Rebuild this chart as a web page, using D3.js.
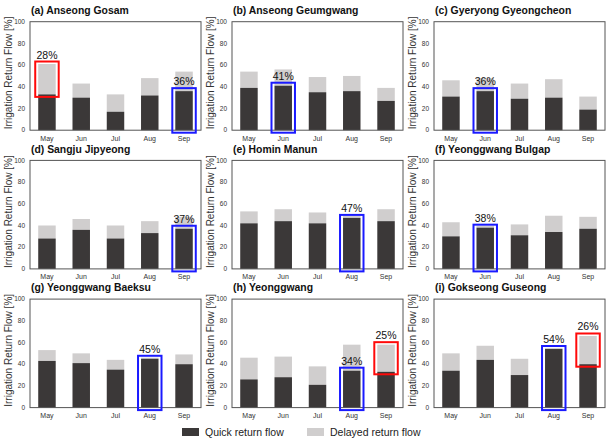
<!DOCTYPE html>
<html>
<head>
<meta charset="utf-8">
<script src="https://cdn.jsdelivr.net/npm/d3@7"></script>
<style>
  body { margin: 0; background: #fff; }
  svg { display: block; font-family: "Liberation Sans", Arial, sans-serif; }
</style>
</head>
<body>
<div id="chart"></div>
<script>
// months on the x axis
const months = ['May', 'Jun', 'Jul', 'Aug', 'Sep'];
const yTicks = [0, 20, 40, 60, 80, 100];

const siteNames = [
  '(a) Anseong Gosam', '(b) Anseong Geumgwang', '(c) Gyeryong Gyeongcheon',
  '(d) Sangju Jipyeong', '(e) Homin Manun', '(f) Yeonggwang Bulgap',
  '(g) Yeonggwang Baeksu', '(h) Yeonggwang', '(i) Gokseong Guseong'
];

// quick return flow [%] per site, May..Sep
const quickFlow = [
  [33, 30, 17, 32, 36],
  [39, 41, 35, 36, 27],
  [31, 36, 29, 30, 19],
  [28, 36, 28, 33, 37],
  [42, 44, 42, 47, 44],
  [30, 38, 31, 34, 37],
  [43, 41, 35, 45, 40],
  [26, 28, 21, 34, 33],
  [34, 44, 30, 54, 40]
];

// total (quick + delayed) return flow [%]
const totalFlow = [
  [61, 43, 33, 48, 54],
  [54, 56, 49, 50, 39],
  [46, 48, 43, 47, 31],
  [40, 46, 40, 44, 48],
  [53, 55, 52, 49, 55],
  [43, 40, 41, 49, 48],
  [53, 50, 44, 46, 49],
  [46, 47, 38, 58, 58],
  [50, 57, 45, 55, 66]
];

// highlighted month: blue = max quick flow, red = max delayed flow
const blueMonth = ['Sep', 'Jun', 'Jun', 'Sep', 'Aug', 'Jun', 'Aug', 'Aug', 'Aug'];
const redMonth  = ['May', null, null, null, null, null, null, 'Sep', 'Sep'];

const legendItems = ['Quick return flow', 'Delayed return flow'];

const W = 606, H = 440;
const colors = { quick: '#3b3838', delayed: '#d0cece', blue: '#1a1aff', red: '#ff0a0a', frame: '#555', text: '#333' };

const svg = d3.select('#chart').append('svg').attr('width', W).attr('height', H);

const plotW = 171, plotH = 108.5;
const colX = [30, 232, 434];
const rowY = [21.7, 160.4, 299.1];

const x = d3.scaleBand().domain(months).range([0, plotW]).paddingInner(0.49).paddingOuter(0.24);
const y = d3.scaleLinear().domain([0, 100]).range([plotH, 0]);
const padX = 3, padY = 2.5;

siteNames.forEach((name, i) => {
  const g = svg.append('g')
    .attr('transform', `translate(${colX[i % 3]},${rowY[Math.floor(i / 3)]})`);

  const rows = months.map((m, k) => ({ month: m, quick: quickFlow[i][k], total: totalFlow[i][k] }));

  // title
  g.append('text')
    .attr('x', 1).attr('y', -7.7)
    .attr('font-size', '10.4px').attr('font-weight', 'bold').attr('fill', '#111')
    .text(name);

  // y label
  g.append('text')
    .attr('transform', `translate(-18,${plotH / 2 - 3}) rotate(-90)`)
    .attr('text-anchor', 'middle')
    .attr('font-size', '10px').attr('fill', colors.text)
    .text('Irrigation Return Flow [%]');

  // y tick labels
  g.selectAll('.ytick').data(yTicks).join('text')
    .attr('x', -5).attr('y', d => y(d)).attr('dy', '0.35em')
    .attr('text-anchor', 'end')
    .attr('font-size', '6.5px').attr('fill', colors.text)
    .text(d => d);

  // x tick labels
  g.selectAll('.xtick').data(months).join('text')
    .attr('x', d => x(d) + x.bandwidth() / 2).attr('y', plotH + 10.5)
    .attr('text-anchor', 'middle')
    .attr('font-size', '7px').attr('fill', colors.text)
    .text(d => d);

  // delayed (stacked on top)
  g.selectAll('.delayed').data(rows).join('rect')
    .attr('x', d => x(d.month)).attr('width', x.bandwidth())
    .attr('y', d => y(d.total)).attr('height', d => y(d.quick) - y(d.total))
    .attr('fill', colors.delayed);

  // quick
  g.selectAll('.quick').data(rows).join('rect')
    .attr('x', d => x(d.month)).attr('width', x.bandwidth())
    .attr('y', d => y(d.quick)).attr('height', d => y(0) - y(d.quick))
    .attr('fill', colors.quick);

  // frame
  g.append('rect')
    .attr('width', plotW).attr('height', plotH)
    .attr('fill', 'none').attr('stroke', colors.frame).attr('stroke-width', 1);

  // blue highlight box around quick flow
  const b = rows.find(d => d.month === blueMonth[i]);
  const by0 = y(b.quick) - padY - 0.5;
  g.append('rect')
    .attr('x', x(b.month) - padX).attr('width', x.bandwidth() + 2 * padX)
    .attr('y', by0).attr('height', y(0) + padY - by0)
    .attr('fill', 'none').attr('stroke', colors.blue).attr('stroke-width', 2);
  g.append('text')
    .attr('x', x(b.month) + x.bandwidth() / 2).attr('y', by0 - 3)
    .attr('text-anchor', 'middle').attr('font-size', '10.5px').attr('fill', '#111')
    .text(b.quick + '%');

  // red highlight box around delayed flow
  if (redMonth[i]) {
    const r = rows.find(d => d.month === redMonth[i]);
    const ry0 = y(r.total) - padY;
    g.append('rect')
      .attr('x', x(r.month) - padX).attr('width', x.bandwidth() + 2 * padX)
      .attr('y', ry0).attr('height', y(r.quick) + padY - ry0)
      .attr('fill', 'none').attr('stroke', colors.red).attr('stroke-width', 2);
    g.append('text')
      .attr('x', x(r.month) + x.bandwidth() / 2).attr('y', ry0 - 3)
      .attr('text-anchor', 'middle').attr('font-size', '10.5px').attr('fill', '#111')
      .text((r.total - r.quick) + '%');
  }
});

// legend
const legendX = [182, 307];
const legend = svg.append('g').attr('transform', 'translate(0,428)');
legendItems.forEach((label, i) => {
  legend.append('rect')
    .attr('x', legendX[i]).attr('y', 0).attr('width', 17).attr('height', 8)
    .attr('fill', i === 0 ? colors.quick : colors.delayed);
  legend.append('text')
    .attr('x', legendX[i] + 23).attr('y', 8)
    .attr('font-size', '10.5px').attr('fill', '#222')
    .text(label);
});
</script>
</body>
</html>
